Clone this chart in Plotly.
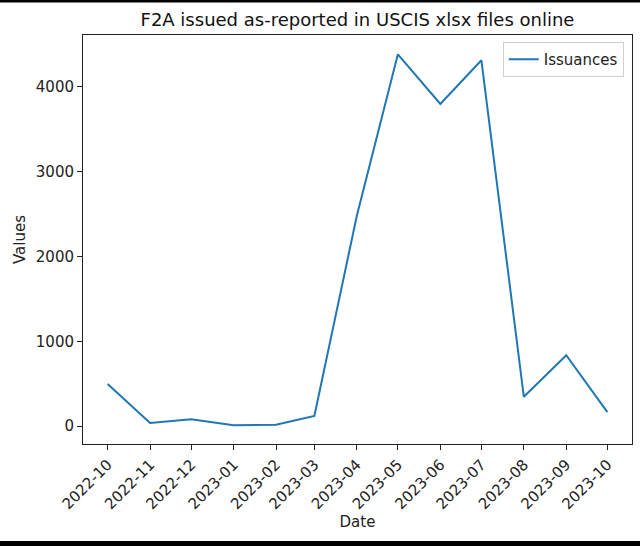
import plotly.graph_objects as go

dates = ["2022-10-01", "2022-11-01", "2022-12-01", "2023-01-01", "2023-02-01",
         "2023-03-01", "2023-04-01", "2023-05-01", "2023-06-01", "2023-07-01",
         "2023-08-01", "2023-09-01", "2023-10-01"]
issuances = [495, 35, 80, 8, 15, 120, 2480, 4385, 3800, 4315, 345, 835, 165]
y_ticks = [0, 1000, 2000, 3000, 4000]

fig = go.Figure()
fig.add_trace(go.Scatter(x=dates, y=issuances, mode="lines", name="Issuances",
                         line=dict(color="#1f77b4", width=2)))

font = "DejaVu Sans, sans-serif"
fig.update_layout(
    width=640, height=546,
    margin=dict(l=83, r=8, t=35, b=102),
    paper_bgcolor="white", plot_bgcolor="white",
    font=dict(family=font, size=15, color="#222"),
    title=dict(text="F2A issued as-reported in USCIS xlsx files online",
               x=0.5, xref="paper", xanchor="center",
               y=1 - 20 / 546, yref="container", yanchor="middle",
               font=dict(size=18, family=font, color="#111")),
    showlegend=True,
    legend=dict(x=0.985, y=0.983, xanchor="right", yanchor="top",
                bgcolor="rgba(255,255,255,0.8)", bordercolor="#d0d0d0", borderwidth=1,
                font=dict(size=15, family=font)),
    xaxis=dict(
        type="date",
        range=["2022-09-13", "2023-10-19"],
        tickmode="array", tickvals=dates, ticktext=[d[:7] for d in dates],
        tickangle=-45, ticks="outside", ticklen=5, tickcolor="#222",
        showline=True, linecolor="#222", linewidth=1, mirror=True,
        showgrid=False, zeroline=False,
        title=dict(text="Date", standoff=4, font=dict(size=15)),
    ),
    yaxis=dict(
        range=[-212, 4613],
        tickvals=y_ticks, ticks="outside", ticklen=5, tickcolor="#222",
        showline=True, linecolor="#222", linewidth=1, mirror=True,
        showgrid=False, zeroline=False,
        title=dict(text="Values", standoff=6, font=dict(size=15)),
    ),
)

fig.add_shape(type="rect", xref="paper", yref="paper", x0=-0.2, x1=1.1,
              y0=-(541 - 444) / 409, y1=-(548 - 444) / 409,
              fillcolor="black", line=dict(width=0), layer="above")
fig.add_shape(type="rect", xref="paper", yref="paper", x0=-0.2, x1=1.1,
              y0=(444 - 2.5) / 409, y1=(444 + 2) / 409,
              fillcolor="black", line=dict(width=0), layer="above")

fig.write_html("out.html")
